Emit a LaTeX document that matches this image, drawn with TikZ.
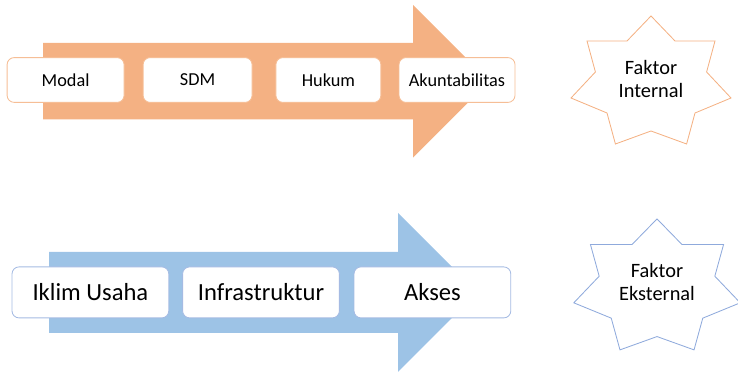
\documentclass[tikz,border=0pt]{standalone}
\usepackage{fontspec}
\setmainfont{Carlito}
\usetikzlibrary{positioning}
\definecolor{arrOrange}{HTML}{F4B183}
\definecolor{lineOrange}{HTML}{F6BE96}
\definecolor{arrBlue}{HTML}{9DC3E6}
\definecolor{lineBlue}{HTML}{8FAADC}

\tikzset{
  wordstar/.pic={
    \path[pic actions] (0,1.6) -- (0.6,0.975) -- (1.6,0.975) -- (1.39,0.2)
      -- (2,-0.45) -- (1.1,-0.825) -- (0.89,-1.6) -- (0,-1.275)
      -- (-0.89,-1.6) -- (-1.1,-0.825) -- (-2,-0.45) -- (-1.39,0.2)
      -- (-1.6,0.975) -- (-0.6,0.975) -- cycle;
  }
}

\begin{document}
\begin{tikzpicture}[
  stepbox/.style={draw, fill=white, rounded corners=5pt, line width=0.6pt,
    minimum height=1.12cm, inner sep=2pt},
  smallbox/.style={stepbox, draw=lineOrange, font=\fontsize{13}{15}\selectfont},
  bigbox/.style={stepbox, draw=lineBlue!80, minimum height=1.275cm,
    minimum width=3.92cm, font=\fontsize{17.5}{20}\selectfont},
  startext/.style={align=center, font=\fontsize{14.5}{16.5}\selectfont},
]
  \useasboundingbox (0,0) rectangle (18.45,9.3);

  \fill[arrOrange] (1.075,6.315) -- (10.325,6.315) -- (10.325,5.36) -- (12.235,7.27)
    -- (10.325,9.18) -- (10.325,8.225) -- (1.075,8.225) -- cycle;
  \fill[arrBlue] (1.225,0.98) -- (9.95,0.98) -- (9.95,0.005) -- (11.935,1.99)
    -- (9.95,3.975) -- (9.95,3.0) -- (1.225,3.0) -- cycle;

  \node[smallbox, minimum width=2.925cm] (modal) at (1.64,7.3) {Modal};
  \node[smallbox, minimum width=2.725cm] (sdm) at (4.94,7.3) {SDM};
  \node[smallbox, minimum width=2.625cm] (hukum) at (8.21,7.3) {Hukum};
  \node[smallbox, minimum width=2.9cm] (akuntabilitas) at (11.425,7.3) {Akuntabilitas};

  \node[bigbox] (iklim) at (2.26,1.99) {Iklim Usaha};
  \node[bigbox] (infra) at (6.525,1.99) {Infrastruktur};
  \node[bigbox] (akses) at (10.81,1.99) {Akses};

  \pic[draw=arrOrange, line width=0.6pt] at (16.275,7.3) {wordstar};
  \node[startext] (internal) at (16.275,7.33) {Faktor\\Internal};

  \pic[draw=lineBlue, line width=0.6pt, xscale=1.04, yscale=1.023] at (16.425,2.19) {wordstar};
  \node[startext] (eksternal) at (16.425,2.24) {Faktor\\Eksternal};
\end{tikzpicture}
\end{document}
